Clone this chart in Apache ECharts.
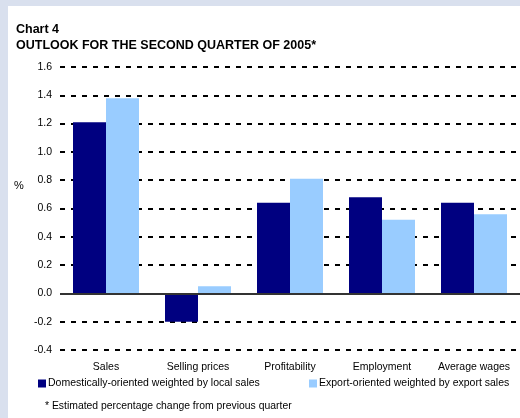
<!DOCTYPE html>
<html><head><meta charset="utf-8">
<script src="https://cdn.jsdelivr.net/npm/echarts@6/dist/echarts.min.js"></script>
<style>
html,body{margin:0;padding:0;background:#D9E0EE;width:520px;height:418px;overflow:hidden}
#c{position:absolute;left:8px;top:6px;width:512px;height:412px;background:#fff}
</style></head><body>
<div id="c"></div>
<script>
const categories = ['Sales','Selling prices','Profitability','Employment','Average wages'];
const domestic = [1.21, -0.20, 0.64, 0.68, 0.64];
const exportOriented = [1.38, 0.05, 0.81, 0.52, 0.56];
const seriesNames = ['Domestically-oriented weighted by local sales','Export-oriented weighted by export sales'];
const titleLines = ['Chart 4','OUTLOOK FOR THE SECOND QUARTER OF 2005*'];
const footnote = '* Estimated percentage change from previous quarter';

const chart = echarts.init(document.getElementById('c'));
const font = '"Liberation Sans", Arial, sans-serif';
chart.setOption({
  animation:false,
  textStyle:{fontFamily:font},
  grid:{left:52, right:0, top:61, bottom:68, containLabel:false},
  xAxis:{type:'category', data:categories,
    axisLine:{show:false}, axisTick:{show:false},
    axisLabel:{color:'#000', fontSize:10.5, margin:12, interval:0, fontFamily:font}},
  yAxis:{type:'value', min:-0.4, max:1.6, interval:0.2,
    axisLine:{show:false}, axisTick:{show:false},
    axisLabel:{color:'#000', fontSize:10.5, margin:8, fontFamily:font,
      formatter:v=>v.toFixed(1)},
    splitLine:{show:true, lineStyle:{color:'#000', width:2, type:[5,6]}}},
  legend:[
    {data:[seriesNames[0]], left:30, top:372, padding:0, itemWidth:8, itemHeight:8, itemGap:4,
     icon:'rect', textStyle:{fontSize:10.5, color:'#000', fontFamily:font, padding:[0,0,0,-3]}},
    {data:[seriesNames[1]], left:301, top:372, padding:0, itemWidth:8, itemHeight:8,
     icon:'rect', textStyle:{fontSize:10.5, color:'#000', fontFamily:font, padding:[0,0,0,-3]}}
  ],
  series:[
    {name:seriesNames[0], type:'bar', data:domestic, barWidth:33, barGap:'0%',
     itemStyle:{color:'#000080'},
     markLine:{symbol:'none', silent:true, label:{show:false},
       lineStyle:{color:'#333', width:2, type:'solid'}, data:[{yAxis:0}]}},
    {name:seriesNames[1], type:'bar', data:exportOriented, barWidth:33,
     itemStyle:{color:'#99CCFF'}}
  ],
  graphic:[
    {type:'text', left:8, top:17, style:{text:titleLines[0], font:'bold 12.5px '+font, fill:'#000'}},
    {type:'text', left:8, top:33, style:{text:titleLines[1], font:'bold 12.5px '+font, fill:'#000'}},
    {type:'text', left:6, top:174, style:{text:'%', font:'11px '+font, fill:'#000'}},
    {type:'text', left:37, top:395, style:{text:footnote, font:'10.4px '+font, fill:'#000'}}
  ]
});
</script>
</body></html>
